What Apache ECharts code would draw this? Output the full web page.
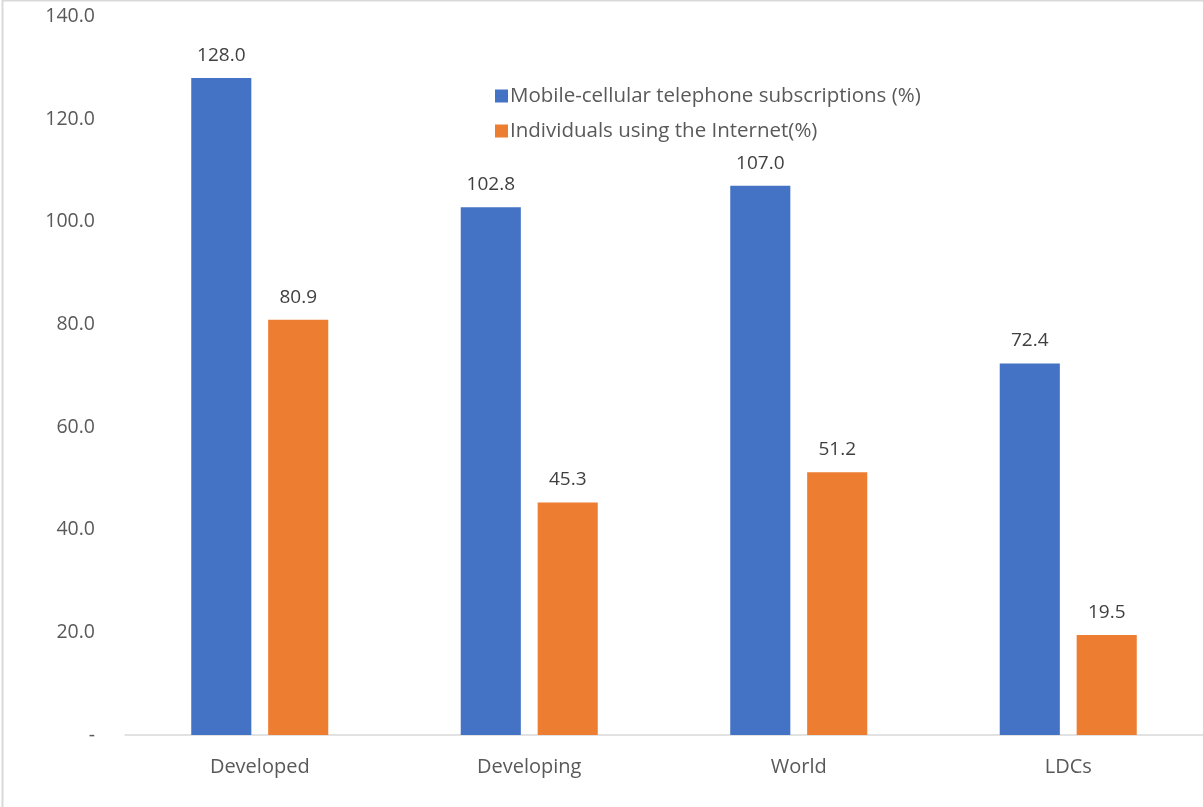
<!DOCTYPE html>
<html>
<head>
<meta charset="utf-8">
<script src="https://cdn.jsdelivr.net/npm/echarts@6/dist/echarts.min.js"></script>
<style>
  html, body { margin: 0; padding: 0; background: #fff; }
  #chart { width: 1203px; height: 807px; }
</style>
</head>
<body>
<div id="chart"></div>
<script>
var categories = ['Developed', 'Developing', 'World', 'LDCs']
var mobileValues = [128.0, 102.8, 107.0, 72.4]
var internetValues = [80.9, 45.3, 51.2, 19.5]
var seriesNames = ['Mobile-cellular telephone subscriptions (%)', 'Individuals using the Internet(%)']

var chart = echarts.init(document.getElementById('chart'))
var font = 'Open Sans'

function barLabel() {
  return {
    show: true,
    position: 'top',
    distance: 13,
    color: '#404040',
    fontSize: 19,
    fontFamily: font,
    formatter: function (p) { return p.value.toFixed(1) }
  }
}

var option = {
  backgroundColor: '#fff',
  animation: false,
  graphic: [{
    type: 'rect',
    shape: { x: 2.5, y: 0.5, width: 1300, height: 900 },
    style: { fill: 'none', stroke: '#d9d9d9', lineWidth: 2 },
    silent: true
  }],
  grid: { left: 125, right: 0, top: 16.4, bottom: 72 },
  legend: {
    orient: 'vertical',
    left: 490,
    top: 80,
    itemWidth: 13,
    itemHeight: 13,
    itemGap: 13,
    icon: 'rect',
    textStyle: { color: '#595959', fontSize: 20.5, lineHeight: 22, fontFamily: font, padding: [0, 0, 0, -3] },
    data: seriesNames
  },
  xAxis: {
    type: 'category',
    data: categories,
    axisLine: { lineStyle: { color: '#d9d9d9', width: 1.5 } },
    axisTick: { show: false },
    axisLabel: { color: '#595959', fontSize: 20, fontFamily: font, margin: 22 }
  },
  yAxis: {
    type: 'value',
    min: 0,
    max: 140,
    interval: 20,
    splitLine: { show: false },
    axisLine: { show: false },
    axisTick: { show: false },
    axisLabel: {
      color: '#595959',
      fontSize: 19.5,
      fontFamily: font,
      margin: 30,
      formatter: function (v) { return v === 0 ? '-' : v.toFixed(1) }
    }
  },
  series: [
    {
      name: seriesNames[0],
      type: 'bar',
      data: mobileValues,
      barWidth: '22.3%',
      barGap: '28%',
      itemStyle: { color: '#4472C4' },
      label: barLabel()
    },
    {
      name: seriesNames[1],
      type: 'bar',
      data: internetValues,
      barWidth: '22.3%',
      itemStyle: { color: '#ED7D31' },
      label: barLabel()
    }
  ]
}

chart.setOption(option)
</script>
</body>
</html>
